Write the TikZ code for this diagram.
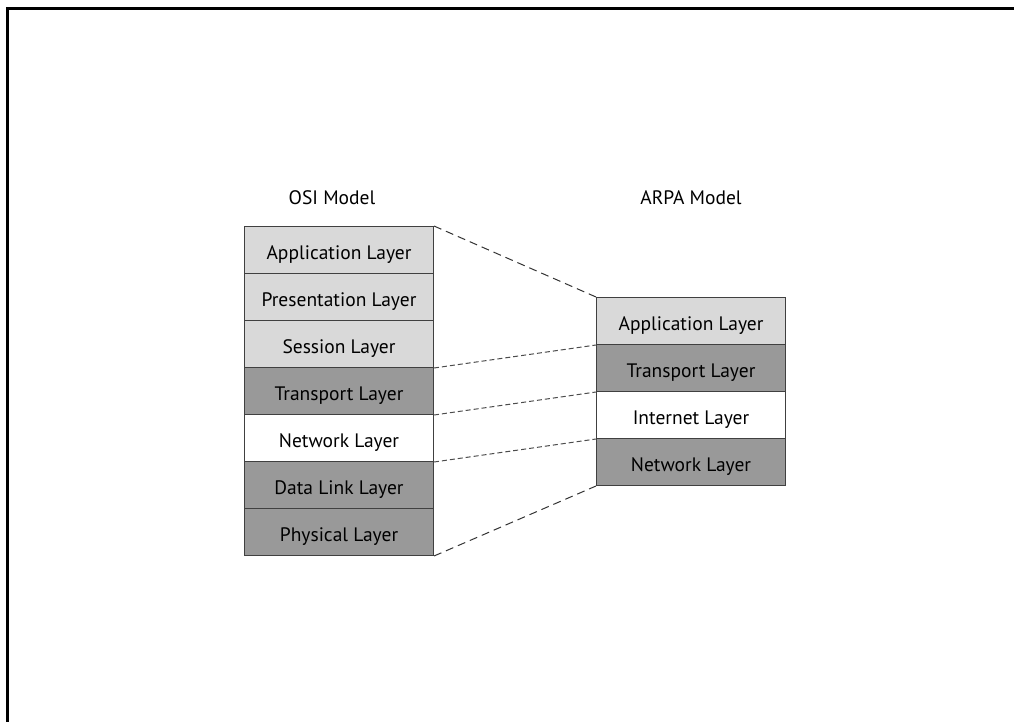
\documentclass[tikz,border=0pt]{standalone}
\usepackage{fontspec}
\setmainfont{PT Sans}
\begin{document}
\begin{tikzpicture}[x=1pt,y=-1pt,
  layer/.style={draw=black!75, line width=1pt, minimum width=189pt, minimum height=47pt,
    inner sep=0pt, text height=18pt, text depth=0pt, anchor=north west,
    font=\fontsize{19.5}{22}\selectfont},
  light/.style={layer, fill=black!15},
  dark/.style={layer, fill=black!40},
  plain/.style={layer, fill=white},
  title/.style={font=\fontsize{19.5}{22}\selectfont},
  outer/.style={draw=black!80, line width=1pt, dash pattern=on 8pt off 5pt},
  inner/.style={draw=black!70, line width=1pt, dash pattern=on 5pt off 3pt}]
\useasboundingbox (0,0) rectangle (1014,722);
% frame
\draw[line width=3pt] (7.5,722) -- (7.5,8.5) -- (1014,8.5);

% OSI stack
\node[title] (osit) at (332,198) {OSI Model};
\node[light] (o1) at (244,226) {Application Layer};
\node[light] (o2) at (244,273) {Presentation Layer};
\node[light] (o3) at (244,320) {Session Layer};
\node[dark]  (o4) at (244,367) {Transport Layer};
\node[plain] (o5) at (244,414) {Network Layer};
\node[dark]  (o6) at (244,461) {Data Link Layer};
\node[dark]  (o7) at (244,508) {Physical Layer};

% ARPA stack
\node[title] (arpat) at (691,198) {ARPA Model};
\node[light] (a1) at (596,297) {Application Layer};
\node[dark]  (a2) at (596,344) {Transport Layer};
\node[plain] (a3) at (596,391) {Internet Layer};
\node[dark]  (a4) at (596,438) {Network Layer};

% correspondences
\draw[outer] (o1.north east) -- (a1.north west);
\draw[inner] (o3.south east) -- (a1.south west);
\draw[inner] (o4.south east) -- (a2.south west);
\draw[inner] (o5.south east) -- (a3.south west);
\draw[outer] (o7.south east) -- (a4.south west);
\end{tikzpicture}
\end{document}
